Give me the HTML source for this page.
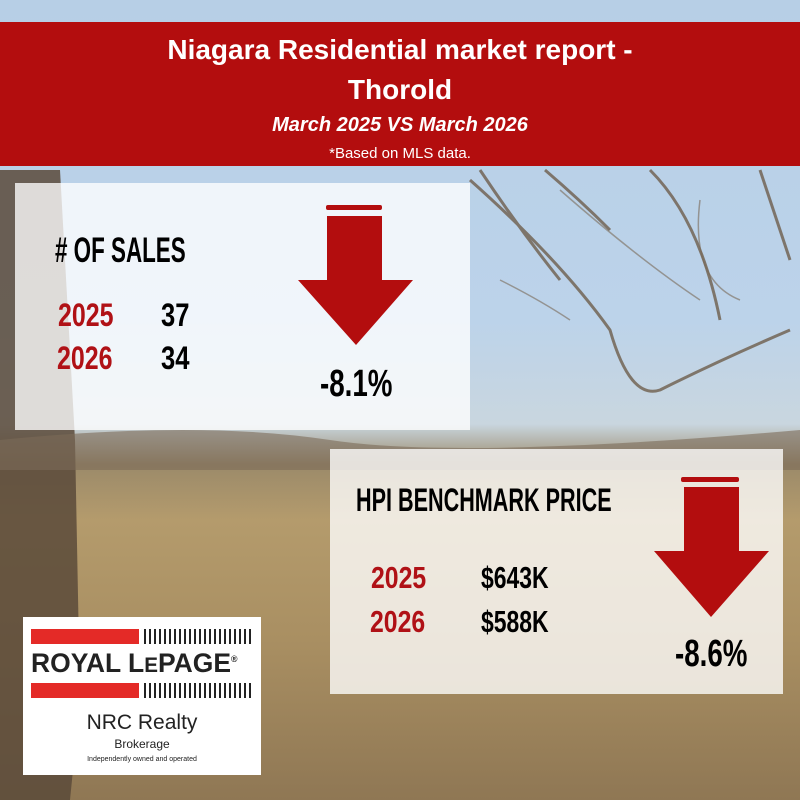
<!DOCTYPE html>
<html><head><meta charset="utf-8"><style>
*{margin:0;padding:0;box-sizing:border-box}
body{width:800px;height:800px;overflow:hidden;position:relative;font-family:"Liberation Sans",sans-serif}
.bg{position:absolute;inset:0;background:linear-gradient(180deg,#b7cfe6 0%,#bcd3ea 40%,#c9d6df 53%,#9b8a6a 58%,#b49b6c 65%,#a98f62 80%,#8f7754 100%)}
.abs{position:absolute;white-space:nowrap;line-height:1}
.n{font-family:"Liberation Sans",sans-serif;font-weight:bold;transform-origin:0 0}
.red{color:#b01116}
.box{position:absolute;background:rgba(255,255,255,0.78)}
</style></head><body>
<div class="bg"></div>
<svg class="abs" style="left:0;top:0" width="800" height="800">
<path d="M0 170 L60 170 L75 440 L80 700 L70 800 L0 800Z" fill="#5a4a3a" opacity="0.85"/>
<path d="M0 440 Q200 420 330 440 T800 430 L800 470 L0 470Z" fill="#7b6b58" opacity="0.6"/>
<g stroke="#6e5e4c" stroke-width="3" fill="none" opacity="0.8">
<path d="M470 180 Q560 260 610 330 Q630 400 660 390 Q720 360 790 330"/>
<path d="M480 170 Q520 230 560 280"/>
<path d="M650 170 Q700 220 720 320"/>
<path d="M760 170 Q780 230 790 260"/>
<path d="M545 170 Q580 200 610 230"/>
</g>
<g stroke="#7a6a58" stroke-width="1.5" fill="none" opacity="0.6">
<path d="M560 190 Q640 260 700 300"/><path d="M700 200 Q690 280 740 300"/><path d="M500 280 Q540 300 570 320"/>
</g>
</svg>
<div class="abs" style="left:0;top:22px;width:800px;height:144px;background:#b30d0e"></div>
<div class="abs" style="left:0;top:36px;width:800px;text-align:center;color:#fff;font-weight:bold;font-size:28px">Niagara Residential market report -</div>
<div class="abs" style="left:0;top:76px;width:800px;text-align:center;color:#fff;font-weight:bold;font-size:28px">Thorold</div>
<div class="abs" style="left:0;top:115px;width:800px;text-align:center;color:#fff;font-weight:bold;font-style:italic;font-size:20px">March 2025 VS March 2026</div>
<div class="abs" style="left:0;top:146px;width:800px;text-align:center;color:#fff;font-size:15px">*Based on MLS data.</div>

<div class="box" style="left:15px;top:183px;width:455px;height:247px"></div>
<div class="box" style="left:330px;top:449px;width:453px;height:245px"></div>

<div class="abs n" style="left:55px;top:233px;font-size:35px;transform:scaleX(0.64)">#&nbsp;OF SALES</div>
<div class="abs n red" style="left:58px;top:299px;font-size:32px;transform:scaleX(0.78)">2025</div>
<div class="abs n red" style="left:57px;top:342px;font-size:32px;transform:scaleX(0.78)">2026</div>
<div class="abs n" style="left:161px;top:299px;font-size:32px;transform:scaleX(0.8)">37</div>
<div class="abs n" style="left:161px;top:342px;font-size:32px;transform:scaleX(0.8)">34</div>
<div class="abs n" style="left:320px;top:365px;font-size:38px;transform:scaleX(0.73)">-8.1%</div>

<div class="abs n" style="left:356px;top:484px;font-size:32px;transform:scaleX(0.675)">HPI BENCHMARK PRICE</div>
<div class="abs n red" style="left:371px;top:562px;font-size:31px;transform:scaleX(0.8)">2025</div>
<div class="abs n red" style="left:370px;top:606px;font-size:31px;transform:scaleX(0.8)">2026</div>
<div class="abs n" style="left:481px;top:562px;font-size:31px;transform:scaleX(0.74)">$643K</div>
<div class="abs n" style="left:481px;top:606px;font-size:31px;transform:scaleX(0.74)">$588K</div>
<div class="abs n" style="left:675px;top:635px;font-size:38px;transform:scaleX(0.73)">-8.6%</div>

<svg class="abs" style="left:0;top:0" width="800" height="800">
<rect x="326" y="205" width="56" height="5" rx="2" fill="#b30d0e"/>
<path d="M327 216 H382 V280 H413 L356 345 L298 280 H327Z" fill="#b30d0e"/>
<rect x="681" y="477" width="58" height="5" rx="2" fill="#b30d0e"/>
<path d="M684 487 H739 V551 H769 L711 617 L654 551 H684Z" fill="#b30d0e"/>
</svg>

<div class="abs" style="left:23px;top:617px;width:238px;height:158px;background:#fff"></div>
<div class="abs" style="left:31px;top:629px;width:108px;height:15px;background:#e42a27"></div>
<div class="abs" style="left:31px;top:683px;width:108px;height:15px;background:#e42a27"></div>
<div class="abs" style="left:144px;top:629px;width:108px;height:15px;background:repeating-linear-gradient(90deg,#222 0 2px,transparent 2px 5px)"></div>
<div class="abs" style="left:144px;top:683px;width:108px;height:15px;background:repeating-linear-gradient(90deg,#222 0 2px,transparent 2px 5px)"></div>
<div class="abs" style="left:31px;top:650px;font-weight:bold;font-size:27px;color:#222;transform:scaleX(0.98);transform-origin:0 0">ROYAL L<span style="font-size:21px">E</span>PAGE<sup style="font-size:9px">®</sup></div>
<div class="abs" style="left:23px;top:712px;width:238px;text-align:center;font-size:21px;color:#222">NRC Realty</div>
<div class="abs" style="left:23px;top:738px;width:238px;text-align:center;font-size:12px;color:#222">Brokerage</div>
<div class="abs" style="left:23px;top:756px;width:238px;text-align:center;font-size:7px;color:#222">Independently owned and operated</div>
</body></html>
